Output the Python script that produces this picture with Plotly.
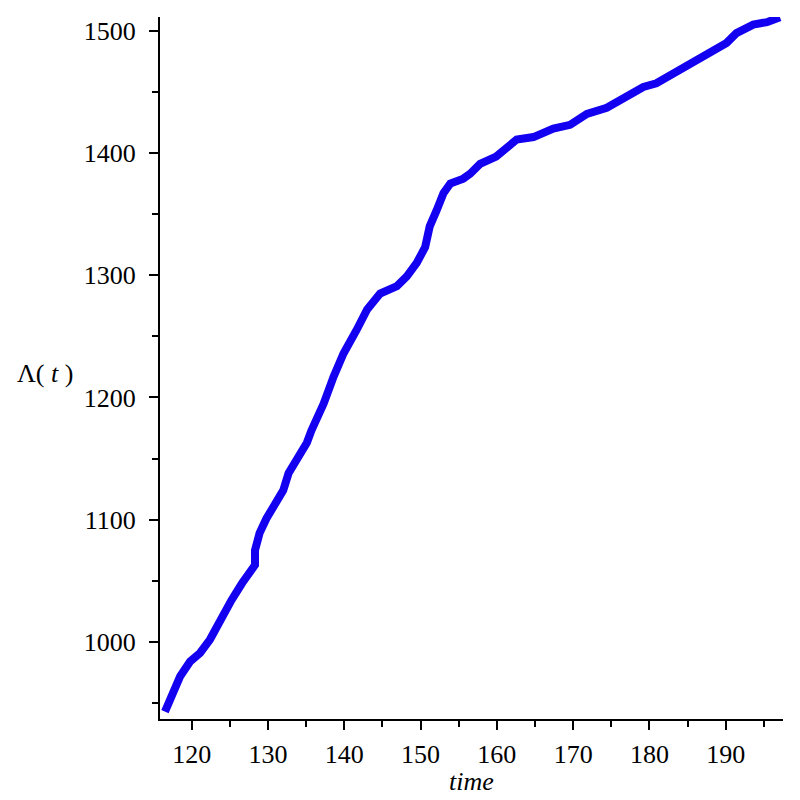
import plotly.graph_objects as go

time_vals = [116.5, 117.6, 118.5, 119.8, 121.1, 122.4, 123.7, 125.2, 126.6, 127.4,
             128.3, 128.3, 128.9, 129.8, 130.9, 132.0, 132.7, 133.8, 135.1, 135.7,
             137.3, 138.6, 139.9, 141.6, 143.0, 144.7, 146.9, 148.2, 149.5, 150.6,
             151.2, 152.1, 153.0, 153.9, 155.6, 156.5, 157.8, 159.9, 162.6, 164.8,
             167.4, 169.6, 171.8, 174.4, 177.0, 179.2, 180.9, 183.1, 185.7, 188.4,
             190.1, 191.4, 193.6, 195.4, 197.1]
lam_vals = [943, 958, 972, 984, 991, 1002, 1018, 1034, 1048, 1056,
            1063, 1075, 1089, 1101, 1112, 1124, 1138, 1150, 1163, 1173,
            1195, 1217, 1236, 1255, 1272, 1285, 1291, 1299, 1310, 1323,
            1340, 1353, 1367, 1375, 1379, 1383, 1391, 1397, 1411, 1413,
            1420, 1423, 1432, 1437, 1446, 1454, 1457, 1465, 1473, 1483,
            1490, 1498, 1505, 1507, 1511]

x_ticks = [120, 130, 140, 150, 160, 170, 180, 190]
y_ticks = [1000, 1100, 1200, 1300, 1400, 1500]

FONT = "Liberation Serif"

fig = go.Figure()
fig.add_trace(go.Scatter(x=time_vals, y=lam_vals, mode="lines",
                         line=dict(color="rgb(20,0,240)", width=8),
                         showlegend=False))

axis_common = dict(showgrid=False, zeroline=False, showline=True, linecolor="black",
                   linewidth=2, ticks="outside", ticklen=9, tickwidth=2, tickcolor="black",
                   tickfont=dict(family=FONT, size=26, color="black"))

# page body has an 8px margin, so the figure is 792px and margins are shifted
fig.update_layout(
    width=792, height=792,
    margin=dict(l=152, r=17, t=9, b=81, autoexpand=False),
    paper_bgcolor="white", plot_bgcolor="white",
    xaxis=dict(range=[115.85, 197.5], tickvals=x_ticks,
               ticktext=[str(v) for v in x_ticks],
               minor=dict(dtick=5, tick0=115, ticklen=6, tickwidth=2,
                          tickcolor="black", ticks="outside"),
               ticklabelstandoff=2,
               **axis_common),
    yaxis=dict(range=[937.0, 1511.2], tickvals=y_ticks,
               ticktext=[str(v) for v in y_ticks],
               minor=dict(dtick=50, tick0=950, ticklen=6, tickwidth=2,
                          tickcolor="black", ticks="outside"),
               ticklabelstandoff=8,
               **axis_common),
    annotations=[
        dict(text="<i>time</i>", xref="paper", yref="paper", x=0.5, y=-(781 - 719) / 702,
             showarrow=False, xanchor="center", yanchor="middle",
             font=dict(family=FONT, size=26, color="black")),
        dict(text="Λ( <i>t</i> )", xref="paper", yref="paper", x=(45 - 160) / 623,
             y=(719 - 373) / 702,
             showarrow=False, xanchor="center", yanchor="middle",
             font=dict(family=FONT, size=26, color="black")),
    ],
)

fig.write_html("out.html")
